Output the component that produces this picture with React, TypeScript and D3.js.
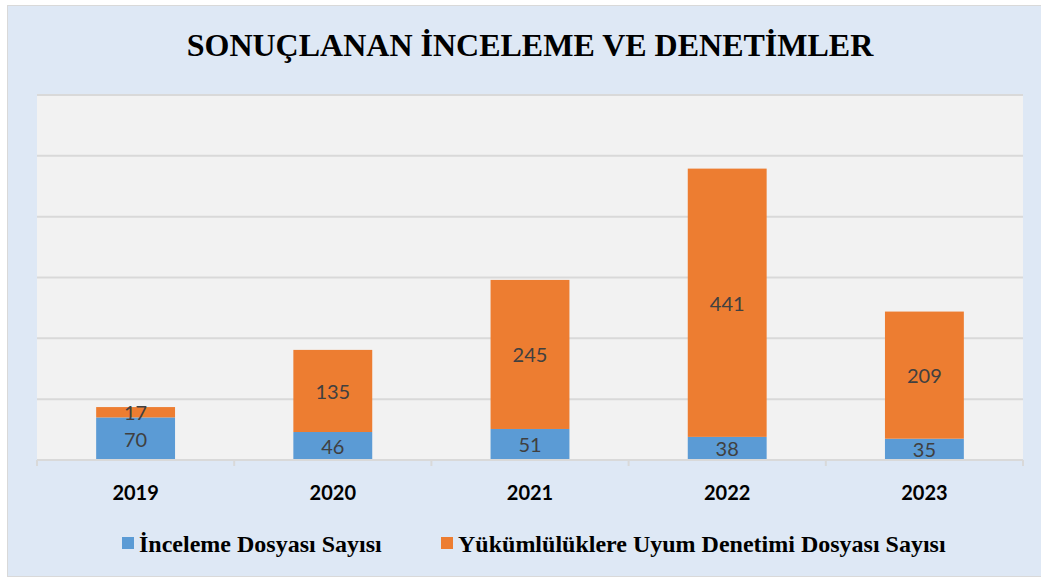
import React, {useEffect, useRef} from 'react';
import * as d3 from 'd3';

const years = ['2019', '2020', '2021', '2022', '2023']
const inceleme = [70, 46, 51, 38, 35]
const uyum = [17, 135, 245, 441, 209]
const seriesNames = ['İnceleme Dosyası Sayısı', 'Yükümlülüklere Uyum Denetimi Dosyası Sayısı']
const seriesColors = ['#5b9bd5', '#ed7d31']
const yTicks = [0, 100, 200, 300, 400, 500, 600]

const App = () => {

    const svgRef = useRef(null);

    const width = 1041
    const height = 581

    let dimensions = {
        width: width,
        height: height,
        margin: {
            top: 95,
            right: 18,
            bottom: 121,
            left: 37
        }
    }

    dimensions.boundedWidth = dimensions.width - dimensions.margin.left - dimensions.margin.right
    dimensions.boundedHeight = dimensions.height - dimensions.margin.top - dimensions.margin.bottom

    const drawFn = () => {

        const wrapper = d3.select(svgRef.current)
        wrapper.selectAll('*').remove()

        // chart background
        wrapper.append('rect')
            .attr('x', 7.5)
            .attr('y', 5.5)
            .attr('width', 1040)
            .attr('height', 571)
            .attr('fill', '#dee8f5')
            .attr('stroke', '#d9d9d9')
            .attr('stroke-width', 1)

        wrapper.append('text')
            .attr('x', 530)
            .attr('y', 56)
            .attr('text-anchor', 'middle')
            .style('font-family', '"Liberation Serif", "Times New Roman", serif')
            .style('font-weight', 'bold')
            .style('font-size', '32px')
            .attr('fill', '#000')
            .text('SONUÇLANAN İNCELEME VE DENETİMLER')

        const bounds = wrapper.append('g')
            .attr('transform', `translate(${dimensions.margin.left}, ${dimensions.margin.top})`)

        bounds.append('rect')
            .attr('width', dimensions.boundedWidth)
            .attr('height', dimensions.boundedHeight)
            .attr('fill', '#f2f2f2')

        const yScale = d3.scaleLinear()
            .domain([0, 600])
            .range([dimensions.boundedHeight, 0])

        const xScale = d3.scaleBand()
            .domain(years)
            .range([0, dimensions.boundedWidth])
            .paddingInner(0.6)
            .paddingOuter(0.3)

        const outerBand = d3.scaleBand()
            .domain(years)
            .range([0, dimensions.boundedWidth])

        bounds.selectAll('.grid')
            .data(yTicks.filter(d => d > 0))
            .join('line')
            .attr('class', 'grid')
            .attr('x1', 0)
            .attr('x2', dimensions.boundedWidth)
            .attr('y1', d => yScale(d))
            .attr('y2', d => yScale(d))
            .attr('stroke', '#d9d9d9')
            .attr('stroke-width', 2)

        const stacked = d3.stack().keys(['a', 'b'])(
            years.map((y, i) => ({year: y, a: inceleme[i], b: uyum[i]}))
        )

        stacked.forEach((layer, li) => {
            const g = bounds.append('g')
            g.selectAll('rect')
                .data(layer)
                .join('rect')
                .attr('x', d => xScale(d.data.year))
                .attr('y', d => yScale(d[1]))
                .attr('width', xScale.bandwidth())
                .attr('height', d => yScale(d[0]) - yScale(d[1]))
                .attr('fill', seriesColors[li])

            g.selectAll('text')
                .data(layer)
                .join('text')
                .attr('x', d => xScale(d.data.year) + xScale.bandwidth() / 2)
                .attr('y', d => (yScale(d[0]) + yScale(d[1])) / 2)
                .attr('dy', '0.4em')
                .attr('text-anchor', 'middle')
                .attr('fill', '#404040')
                .style('font-family', 'Lato, "Open Sans", sans-serif')
                .style('font-size', '20px')
                .text(d => d[1] - d[0])
        })

        // axis
        const axis = bounds.append('g')
            .attr('transform', `translate(0, ${dimensions.boundedHeight})`)

        axis.append('line')
            .attr('x1', 0)
            .attr('x2', dimensions.boundedWidth)
            .attr('stroke', '#d9d9d9')
            .attr('stroke-width', 2)

        const tickXs = years.map(y => outerBand(y)).concat([dimensions.boundedWidth])
        axis.selectAll('.tick')
            .data(tickXs)
            .join('line')
            .attr('class', 'tick')
            .attr('x1', d => d)
            .attr('x2', d => d)
            .attr('y1', 0)
            .attr('y2', 6)
            .attr('stroke', '#d9d9d9')
            .attr('stroke-width', 2)

        axis.selectAll('.year')
            .data(years)
            .join('text')
            .attr('class', 'year')
            .attr('x', d => outerBand(d) + outerBand.bandwidth() / 2)
            .attr('y', 40)
            .attr('text-anchor', 'middle')
            .attr('fill', '#000')
            .style('font-family', 'Lato, "Open Sans", sans-serif')
            .style('font-weight', 'bold')
            .style('font-size', '20px')
            .text(d => d)

        // legend
        const legendX = [122, 441]
        const legend = wrapper.append('g')
        seriesNames.forEach((name, i) => {
            legend.append('rect')
                .attr('x', legendX[i])
                .attr('y', 537)
                .attr('width', 12)
                .attr('height', 12)
                .attr('fill', seriesColors[i])
            legend.append('text')
                .attr('x', legendX[i] + 17)
                .attr('y', 552)
                .attr('fill', '#000')
                .style('font-family', '"Liberation Serif", "Times New Roman", serif')
                .style('font-weight', 'bold')
                .style('font-size', '24px')
                .text(name)
        })
    }

    useEffect(() => {
        drawFn();
    }, [])

    return(
        <svg ref = {svgRef} width = {width} height = {height}
            style = {{position: 'absolute', left: 0, top: 0, display: 'block'}}>
        </svg>
    );
}

export default App;
